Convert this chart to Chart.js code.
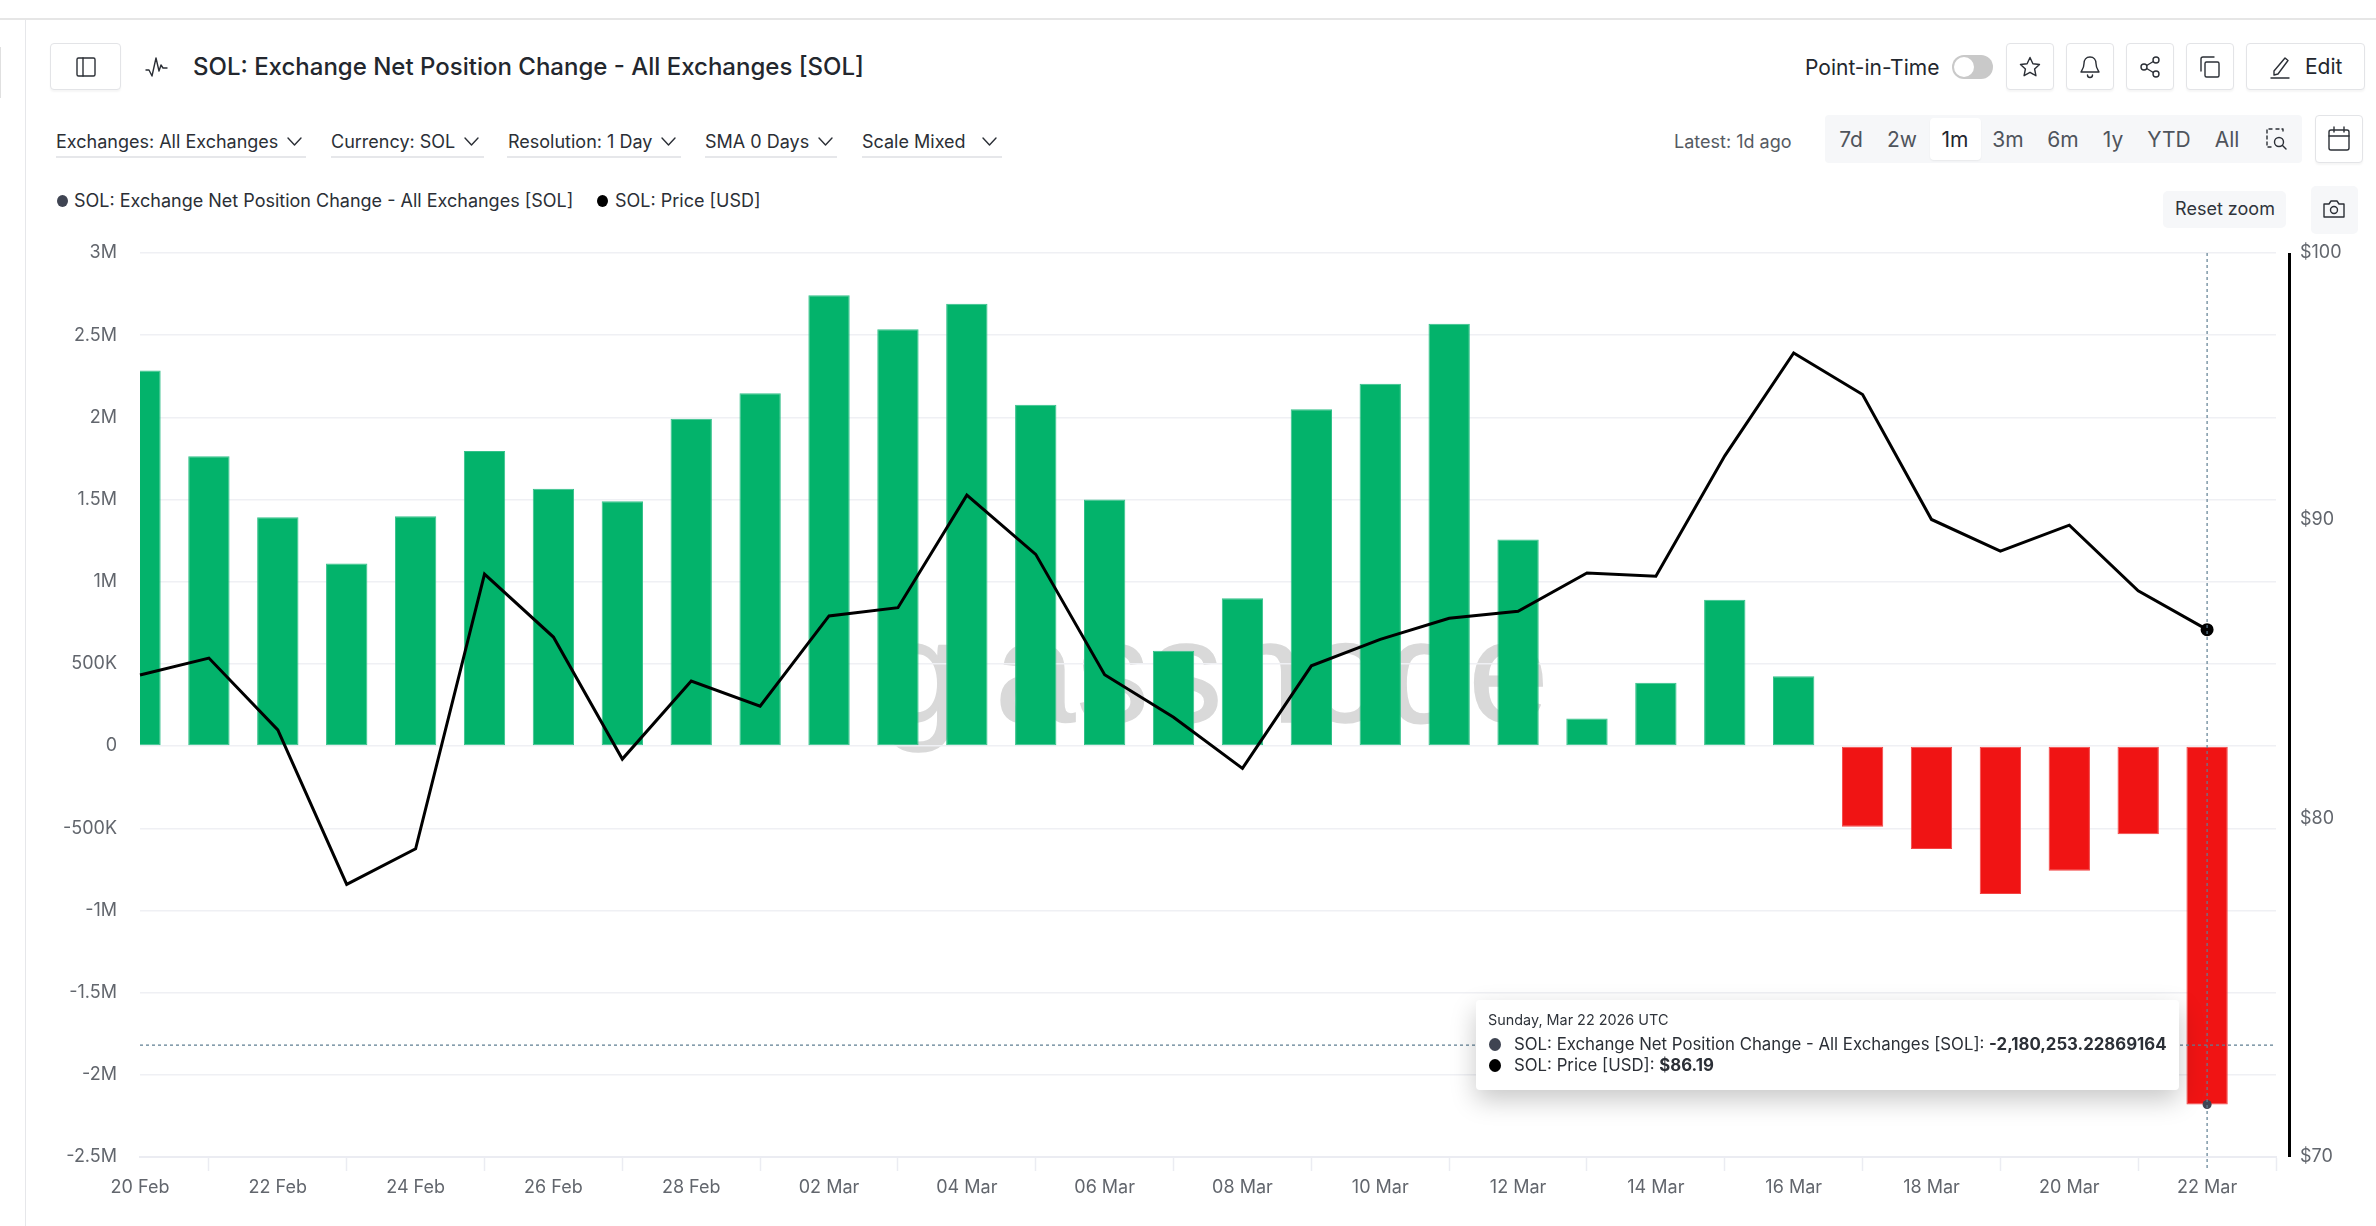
<!DOCTYPE html>
<html lang="en">
<head>
<meta charset="utf-8">
<title>SOL: Exchange Net Position Change - All Exchanges [SOL]</title>
<script src="https://cdn.jsdelivr.net/npm/chart.js@4/dist/chart.umd.js"></script>
<style>
html,body{margin:0;padding:0;width:2376px;height:1226px;overflow:hidden;background:#fff;font-family:Inter,"Noto Sans",sans-serif;color:#2b2f36}
.a{position:absolute;white-space:nowrap}
.t{transform:translateY(-50%);line-height:1}
.btn{position:absolute;box-sizing:border-box;border:1px solid #e3e4e7;border-radius:4px;background:#fff;box-shadow:0 2px 2px rgba(0,0,0,.04);display:flex;align-items:center;justify-content:center}
.f{position:absolute;top:156px;height:2px;background:#e6e7ea}
.r{position:absolute;top:139px;transform:translate(-50%,-50%);font-size:21px;color:#4f545c;line-height:1}
svg{fill:none;stroke:#2b2f36;stroke-width:1.4;stroke-linecap:round;stroke-linejoin:round}
#wm{position:absolute;left:880px;top:601px;font:144px "Liberation Sans",sans-serif;letter-spacing:1.5px;color:#d9d9d9;line-height:1;-webkit-text-stroke:1.5px #d9d9d9}
canvas{position:absolute;left:0;top:0}
</style>
</head>
<body>
<div class="a" style="left:0;top:18px;width:2376px;height:2px;background:#e6e6e6"></div>
<div class="a" style="left:25px;top:20px;width:1px;height:1206px;background:#e6e7ea"></div>
<div class="a" style="left:0;top:47px;width:1px;height:51px;background:#e0e0e0"></div>

<div class="btn" style="left:50px;top:43px;width:71px;height:47px"><svg width="22" height="22" viewBox="0 0 22 22"><rect x="2" y="2" width="18" height="18" rx="1.5"/><path d="M8 2v18"/></svg></div>
<svg class="a" style="left:145px;top:56px" width="24" height="22" viewBox="0 0 24 22"><path d="M1 14h3l3 6 4-18 3 13 2-6 2 3h4"/></svg>
<div class="a t" style="left:193px;top:67px;font-size:24px;font-weight:500;color:#23272e">SOL: Exchange Net Position Change - All Exchanges [SOL]</div>

<div class="a t" style="left:56px;top:141.500px;font-size:18px">Exchanges: All Exchanges</div>
<svg class="a" style="left:286px;top:136px" width="17" height="11" viewBox="0 0 17 11"><path d="M2 2l6.500 7 6.500-7"/></svg>
<div class="f" style="left:56px;width:250px"></div>
<div class="a t" style="left:331px;top:141.500px;font-size:18px">Currency: SOL</div>
<svg class="a" style="left:463px;top:136px" width="17" height="11" viewBox="0 0 17 11"><path d="M2 2l6.500 7 6.500-7"/></svg>
<div class="f" style="left:331px;width:153px"></div>
<div class="a t" style="left:508px;top:141.500px;font-size:18px">Resolution: 1 Day</div>
<svg class="a" style="left:660px;top:136px" width="17" height="11" viewBox="0 0 17 11"><path d="M2 2l6.500 7 6.500-7"/></svg>
<div class="f" style="left:507px;width:174px"></div>
<div class="a t" style="left:705px;top:141.500px;font-size:18px">SMA 0 Days</div>
<svg class="a" style="left:817px;top:136px" width="17" height="11" viewBox="0 0 17 11"><path d="M2 2l6.500 7 6.500-7"/></svg>
<div class="f" style="left:705px;width:132px"></div>
<div class="a t" style="left:862px;top:141.500px;font-size:18px">Scale Mixed</div>
<svg class="a" style="left:981px;top:136px" width="17" height="11" viewBox="0 0 17 11"><path d="M2 2l6.500 7 6.500-7"/></svg>
<div class="f" style="left:862px;width:140px"></div>

<div class="a" style="left:57px;top:195px;width:11px;height:12px;border-radius:50%;background:#3f4452"></div>
<div class="a t" style="left:74px;top:201px;font-size:18px">SOL: Exchange Net Position Change - All Exchanges [SOL]</div>
<div class="a" style="left:597px;top:195px;width:11px;height:12px;border-radius:50%;background:#000"></div>
<div class="a t" style="left:615px;top:201px;font-size:18px">SOL: Price [USD]</div>

<div class="a t" style="left:1805px;top:67px;font-size:21px;color:#23272e">Point-in-Time</div>
<div class="a" style="left:1952px;top:55px;width:41px;height:24px;border-radius:12px;background:#c9c9c9"><div class="a" style="left:2px;top:2px;width:20px;height:20px;border-radius:50%;background:#fff"></div></div>
<div class="btn" style="left:2006px;top:43px;width:48px;height:47px"><svg width="24" height="24" viewBox="0 0 24 24"><path d="M12 2.500l2.900 6.200 6.600.8-4.900 4.500 1.300 6.700-5.900-3.400-5.900 3.400 1.300-6.700L2.500 9.500l6.600-.8z"/></svg></div>
<div class="btn" style="left:2066px;top:43px;width:48px;height:47px"><svg width="24" height="24" viewBox="0 0 24 24"><path d="M12 2c-4 0-6 3-6 6.500 0 5-2.500 7-3 8.500h18c-.5-1.500-3-3.500-3-8.500C18 5 16 2 12 2zM9.500 20a2.500 2.500 0 0 0 5 0"/></svg></div>
<div class="btn" style="left:2126px;top:43px;width:48px;height:47px"><svg width="24" height="24" viewBox="0 0 24 24"><circle cx="18" cy="5" r="3"/><circle cx="6" cy="12" r="3"/><circle cx="18" cy="19" r="3"/><path d="M8.700 10.500l6.600-4M8.700 13.500l6.600 4"/></svg></div>
<div class="btn" style="left:2186px;top:43px;width:48px;height:47px"><svg width="24" height="24" viewBox="0 0 24 24"><rect x="7" y="7" width="14" height="15" rx="1.500"/><path d="M3 16V4a2 2 0 0 1 2-2h11"/></svg></div>
<div class="btn" style="left:2246px;top:43px;width:119px;height:47px;justify-content:flex-start"><svg style="margin-left:21px" width="24" height="24" viewBox="0 0 24 24"><path d="M6 16L17 3l3 2.500L10 19l-4 1zM3 23h18"/></svg><span style="margin-left:13px;font-size:21px;color:#23272e">Edit</span></div>

<div class="a t" style="left:1674px;top:142px;font-size:18px;color:#555a62">Latest: 1d ago</div>
<div class="a" style="left:1825px;top:115px;width:477px;height:48px;background:#f6f7f9;border-radius:4px"></div>
<div class="a" style="left:1930px;top:118px;width:51px;height:42px;background:#fff;border-radius:4px;box-shadow:0 1px 2px rgba(0,0,0,.06)"></div>
<div class="r" style="left:1851px">7d</div>
<div class="r" style="left:1902px">2w</div>
<div class="r" style="left:1955px;color:#23272e">1m</div>
<div class="r" style="left:2008px">3m</div>
<div class="r" style="left:2063px">6m</div>
<div class="r" style="left:2113px">1y</div>
<div class="r" style="left:2169px">YTD</div>
<div class="r" style="left:2227px">All</div>
<svg class="a" style="left:2264px;top:127px" width="24" height="24" viewBox="0 0 24 24"><path stroke-dasharray="3 3" d="M8 2H3v18h5M12 2h7v5"/><circle cx="15" cy="15" r="4.500"/><path d="M18.500 18.500l3.500 3.500"/></svg>
<div class="btn" style="left:2315px;top:115px;width:48px;height:48px"><svg width="26" height="28" viewBox="0 0 26 28"><rect x="3" y="5" width="20" height="20" rx="2"/><path d="M3 11h20M8 2v5M18 2v5"/></svg></div>

<div class="a" style="left:2163px;top:191px;width:123px;height:37px;background:#f6f7f9;border-radius:5px"></div>
<div class="a" style="left:2225px;top:209px;transform:translate(-50%,-50%);font-size:18px;line-height:1;color:#2f343b">Reset zoom</div>
<div class="a" style="left:2311px;top:186px;width:47px;height:48px;background:#f6f7f9;border-radius:5px"></div>
<svg class="a" style="left:2322px;top:197px" width="24" height="24" viewBox="0 0 24 24"><path d="M2 7h5l2-3h6l2 3h5v13H2z"/><circle cx="12" cy="13" r="3.500"/></svg>

<div id="wm">glassnode</div>
<canvas id="c" width="2376" height="1226"></canvas>

<div class="a" style="left:1476px;top:1000px;width:703px;height:90px;background:#fff;border-radius:4px;box-shadow:0 10px 26px rgba(0,0,0,.22)">
  <div class="a t" style="left:12px;top:20px;font-size:14.400px;color:#2f343b">Sunday, Mar 22 2026 UTC</div>
  <div class="a" style="left:13px;top:38px;width:12px;height:13px;border-radius:50%;background:#3f4452"></div>
  <div class="a t" style="left:38px;top:44px;font-size:16.800px;color:#2b2f36">SOL: Exchange Net Position Change - All Exchanges [SOL]: <b style="font-weight:700">-2,180,253.22869164</b></div>
  <div class="a" style="left:13px;top:59px;width:12px;height:13px;border-radius:50%;background:#000"></div>
  <div class="a t" style="left:38px;top:65px;font-size:16.800px;color:#2b2f36">SOL: Price [USD]: <b style="font-weight:700">$86.19</b></div>
</div>

<script>
const categories = ["20 Feb","21 Feb","22 Feb","23 Feb","24 Feb","25 Feb","26 Feb","27 Feb","28 Feb","01 Mar","02 Mar","03 Mar","04 Mar","05 Mar","06 Mar","07 Mar","08 Mar","09 Mar","10 Mar","11 Mar","12 Mar","13 Mar","14 Mar","15 Mar","16 Mar","17 Mar","18 Mar","19 Mar","20 Mar","21 Mar","22 Mar","23 Mar"];
const netPositionChange = [2285000,1763000,1393000,1111000,1398000,1796000,1565000,1489000,1991000,2146000,2743000,2536000,2691000,2076000,1500000,580000,900000,2050000,2204000,2569000,1257000,168000,385000,891000,425000,-491000,-626000,-900000,-758000,-536000,-2180253.22869164];
const priceUsd = [84.66,85.23,82.85,77.95,79.05,88.10,85.94,81.90,84.46,83.63,86.66,86.94,90.89,88.79,84.67,83.26,81.60,84.97,85.86,86.58,86.82,88.14,88.03,92.31,96.13,94.57,90.02,88.90,89.82,87.52,86.19];
const priceTicks = [70,80,90,100];
const hoverIndex = 30;
const hoverNetValue = -1819000;

const last = netPositionChange.length - 1;
const tickFont = {family:'Inter', size:18};
const tickColor = '#62666d';

const overlay = {
  id:'overlay',
  afterDatasetsDraw(chart){
    const {ctx, chartArea:a, scales:{x, y, price}} = chart;
    ctx.save();
    ctx.strokeStyle = '#000';
    ctx.lineWidth = 3;
    ctx.beginPath();
    ctx.moveTo(a.right + 13.5, price.top);
    ctx.lineTo(a.right + 13.5, price.bottom);
    ctx.stroke();
    const cx = x.getPixelForValue(hoverIndex), cy = y.getPixelForValue(hoverNetValue);
    ctx.strokeStyle = '#5f7f92';
    ctx.lineWidth = 1.2;
    ctx.setLineDash([3,3]);
    ctx.beginPath();
    ctx.moveTo(cx, a.top); ctx.lineTo(cx, a.bottom + 14);
    ctx.moveTo(a.left, cy); ctx.lineTo(a.right, cy);
    ctx.stroke();
    ctx.restore();
  }
};

new Chart(document.getElementById('c'), {
  data:{
    labels:categories,
    datasets:[
      {type:'line', label:'SOL: Price [USD]', data:priceUsd, yAxisID:'price', order:1,
       borderColor:'#000', backgroundColor:'#000', borderWidth:3, tension:0, borderJoinStyle:'miter',
       pointRadius:c=>c.dataIndex===last?5:0, pointHoverRadius:0, clip:false},
      {type:'line', label:'hover marker', data:netPositionChange, yAxisID:'y', order:0, showLine:false,
       backgroundColor:'#3f4452', borderColor:'#3f4452', pointBorderWidth:0,
       pointRadius:c=>c.dataIndex===last?4.5:0, pointHoverRadius:0, clip:false},
      {type:'bar', label:'SOL: Exchange Net Position Change - All Exchanges [SOL]', data:netPositionChange, yAxisID:'y', order:2,
       backgroundColor:c=>c.raw>=0?'#03b36b':'#f01414',
       borderColor:c=>c.raw>=0?'#34c18a':'#f34545',
       borderWidth:1, borderSkipped:false,
       categoryPercentage:1, barPercentage:0.6}
    ]
  },
  options:{
    responsive:false, animation:false, devicePixelRatio:1, events:[],
    layout:{padding:{top:253,left:0,right:0,bottom:0}},
    plugins:{legend:{display:false}, tooltip:{enabled:false}},
    scales:{
      x:{type:'category', offset:false,
         afterBuildTicks(s){ s.ticks = s.ticks.filter((t,i)=>i%2===0); },
         afterFit(s){ s.height = 69; },
         border:{display:true,color:'#ebecf2',width:2},
         grid:{drawOnChartArea:false, drawTicks:true, tickLength:14, tickColor:'#ebecf2', tickWidth:1.5},
         ticks:{autoSkip:false, maxRotation:0, minRotation:0, padding:6, font:tickFont, color:tickColor}},
      y:{type:'linear', position:'left', min:-2500000, max:3000000,
         afterFit(s){ s.width = 140; },
         border:{display:false},
         grid:{color:'#eff0f4', lineWidth:1.5, drawTicks:false},
         ticks:{stepSize:500000, padding:23, font:tickFont, color:tickColor,
           callback(v){ if(v===0) return '0'; const a=Math.abs(v), s=v<0?'-':''; return a>=1e6? s+(a/1e6)+'M' : s+(a/1e3)+'K'; }}},
      price:{type:'logarithmic', position:'right', min:70, max:100,
         afterBuildTicks(s){ s.ticks = priceTicks.map(value=>({value})); },
         afterFit(s){ s.width = 100; },
         border:{display:false},
         grid:{drawOnChartArea:false, drawTicks:false},
         ticks:{padding:24, font:tickFont, color:tickColor, callback:v=>'$'+v}}
    }
  },
  plugins:[overlay]
});
</script>
</body>
</html>
